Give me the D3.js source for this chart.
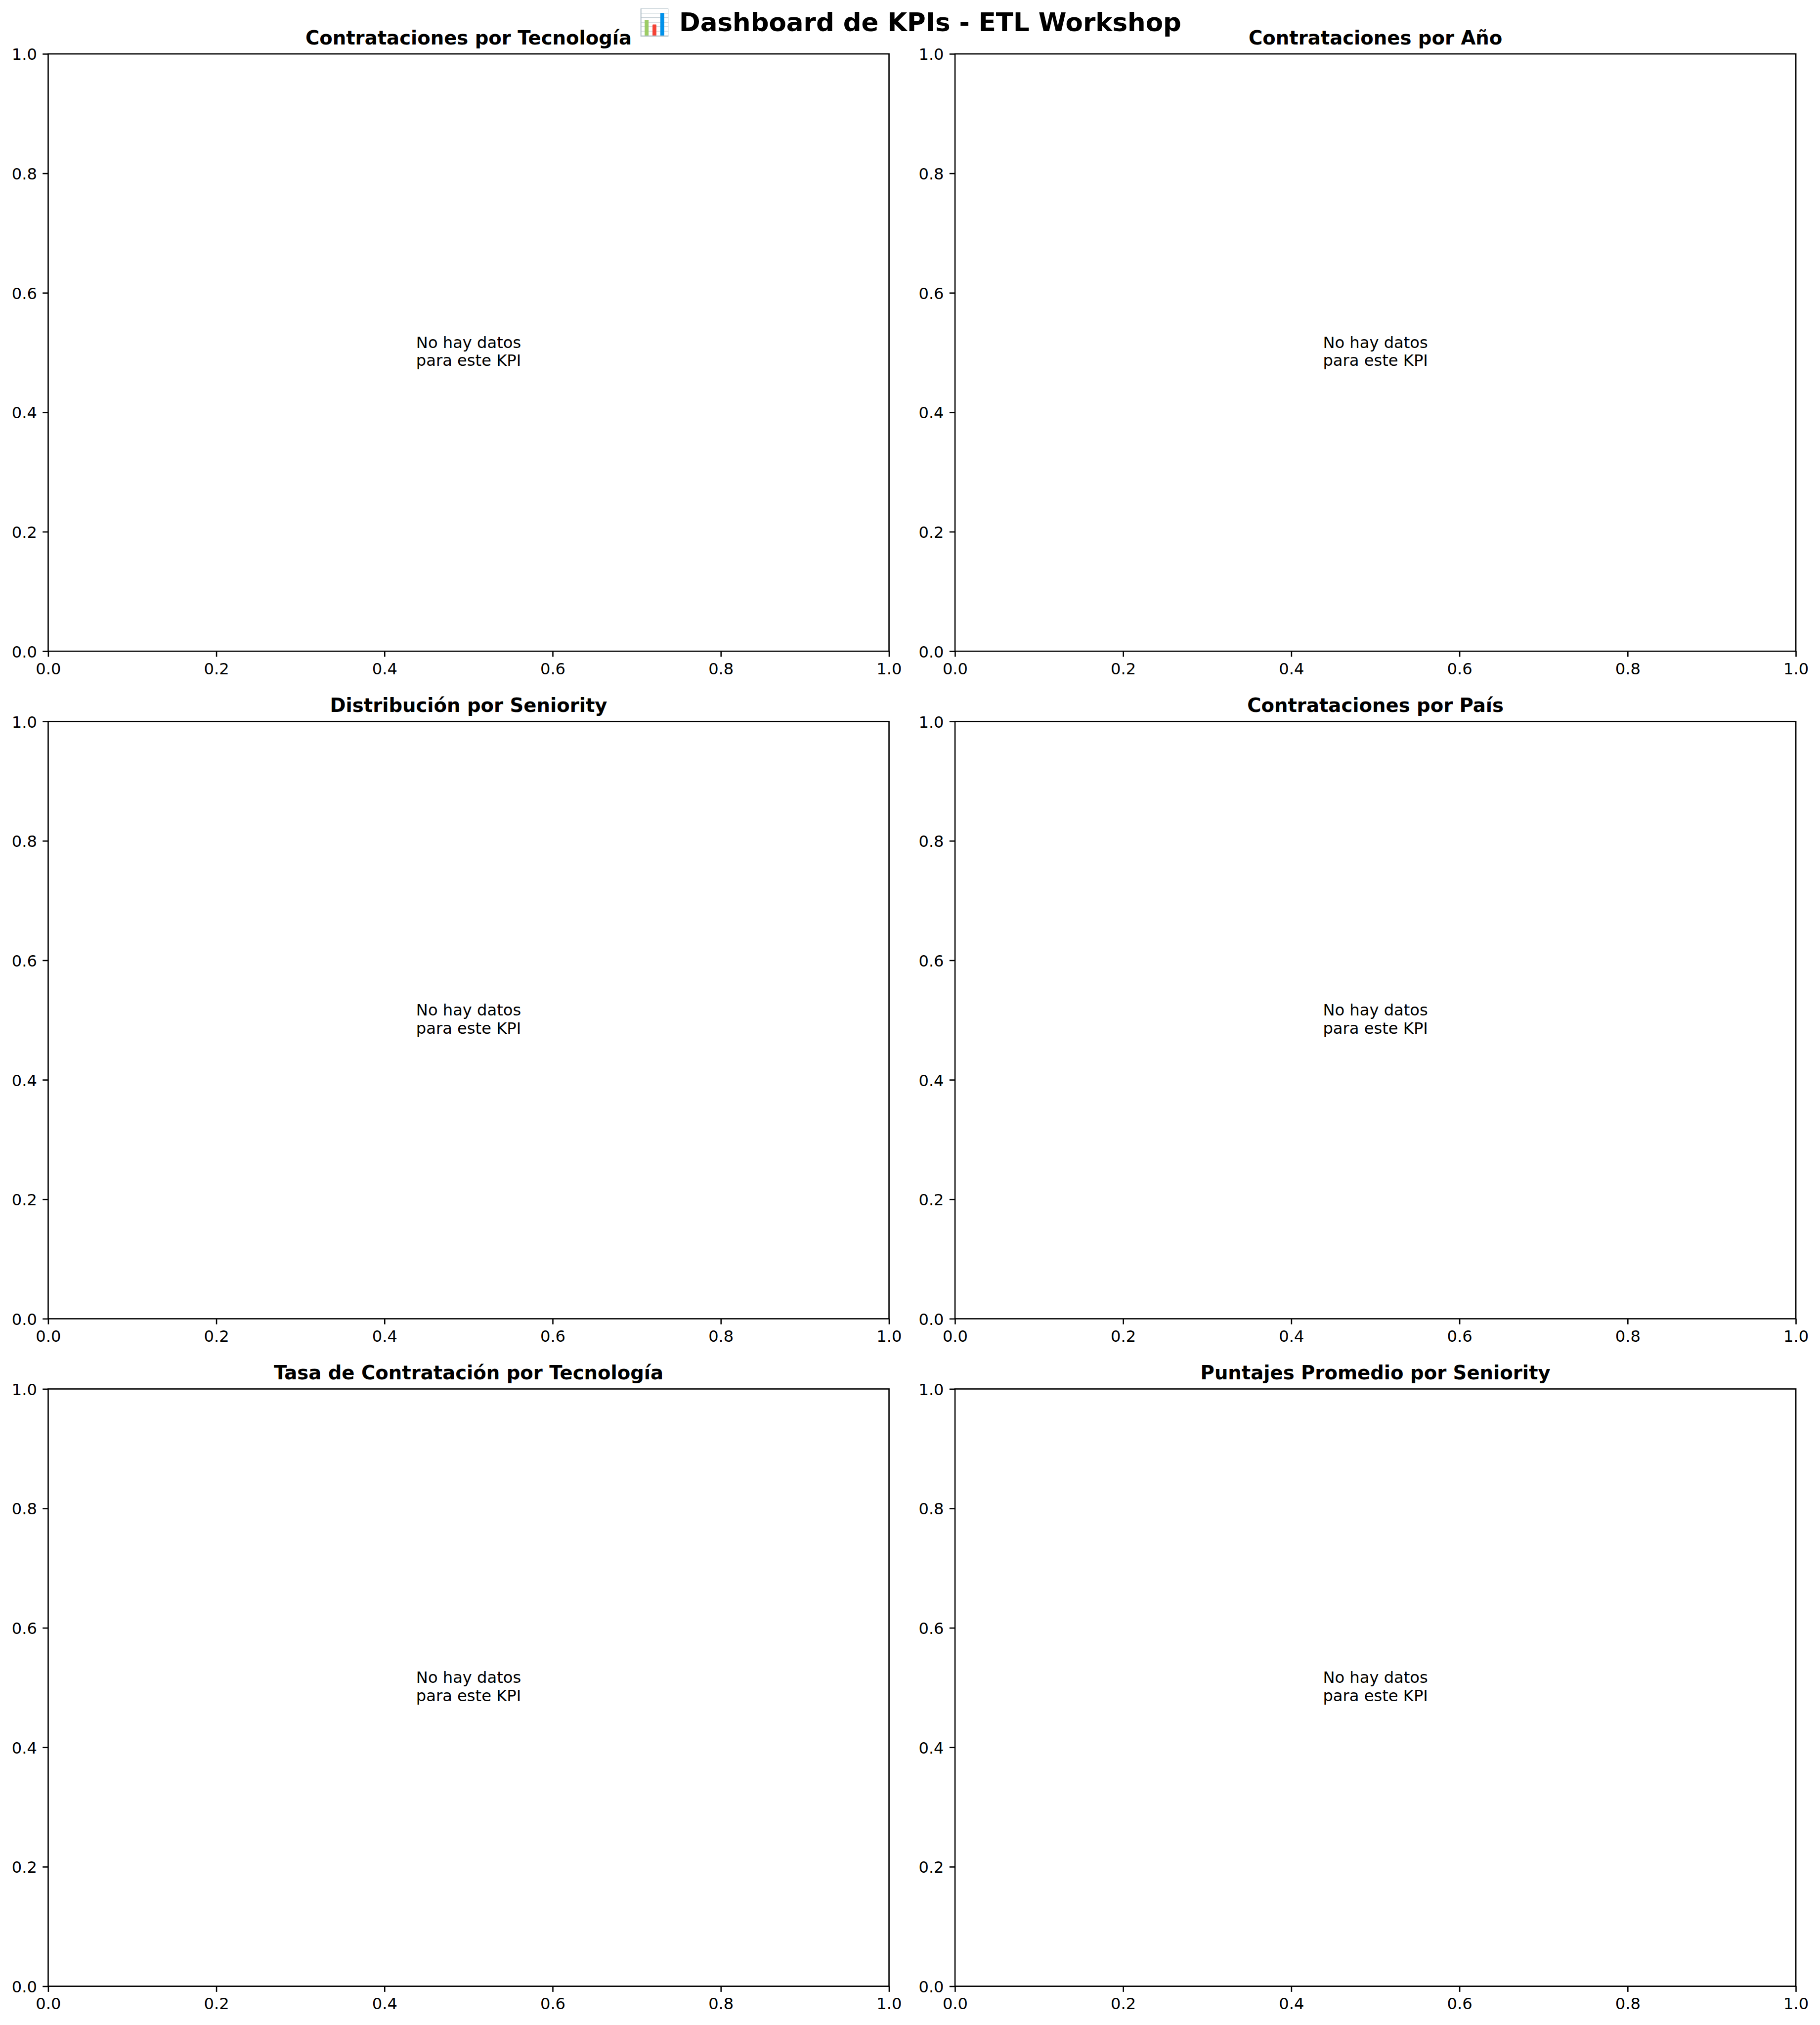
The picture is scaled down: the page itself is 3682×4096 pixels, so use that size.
<!DOCTYPE html>
<html>
<head>
<meta charset="utf-8">
<script src="https://cdn.jsdelivr.net/npm/d3@7"></script>
<style>
  html, body { margin: 0; padding: 0; background: #ffffff; }
  svg { display: block; }
  text { font-family: "DejaVu Sans", sans-serif; fill: #000; }
</style>
</head>
<body>
<script>
// ---- data ----
const suptitle = "\u{1F4CA} Dashboard de KPIs - ETL Workshop";
const panelTitles = [
  "Contrataciones por Tecnología",
  "Contrataciones por Año",
  "Distribución por Seniority",
  "Contrataciones por País",
  "Tasa de Contratación por Tecnología",
  "Puntajes Promedio por Seniority"
];
const emptyMessage = ["No hay datos", "para este KPI"];
const xTicks = [0.0, 0.2, 0.4, 0.6, 0.8, 1.0];
const yTicks = [0.0, 0.2, 0.4, 0.6, 0.8, 1.0];
const xDomain = [0, 1];
const yDomain = [0, 1];

// ---- layout (reference pixel units, scaled by viewBox) ----
const REF_W = 4770, REF_H = 5307;
const OUT_W = 3682, OUT_H = 4096;
const colX = [126, 2503];
const rowY = [141.3, 1890.7, 3640.1];
const panelW = 2204, panelH = 1565.4;
const pt = 300 / 72;          // px per point at 300 dpi
const tickFont = 10 * pt;
const titleFont = 12 * pt;
const supFont = 16 * pt;
const lw = 0.8 * pt;
const tickLen = 3.5 * pt;

const svg = d3.select("body").append("svg")
  .attr("width", OUT_W).attr("height", OUT_H)
  .attr("viewBox", `0 0 ${REF_W} ${REF_H}`);

svg.append("rect").attr("width", REF_W).attr("height", REF_H).attr("fill", "#fff");

svg.append("text")
  .attr("x", REF_W / 2).attr("y", 81.7)
  .attr("text-anchor", "middle")
  .attr("font-size", supFont).attr("font-weight", "bold")
  .text(suptitle);

panelTitles.forEach((title, i) => {
  const cx = colX[i % 2], cy = rowY[Math.floor(i / 2)];
  const g = svg.append("g").attr("transform", `translate(${cx},${cy})`);
  const x = d3.scaleLinear().domain(xDomain).range([0, panelW]);
  const y = d3.scaleLinear().domain(yDomain).range([panelH, 0]);

  // x axis
  const gx = g.append("g").attr("transform", `translate(0,${panelH})`)
    .call(d3.axisBottom(x).tickValues(xTicks).tickFormat(d3.format(".1f"))
      .tickSize(tickLen).tickPadding(tickLen).tickSizeOuter(0));
  gx.select(".domain").remove();
  gx.selectAll(".tick line").attr("stroke", "#000").attr("stroke-width", lw);
  gx.selectAll(".tick text").attr("font-size", tickFont)
    .attr("font-family", "DejaVu Sans").attr("fill", "#000")
    .attr("dy", "0.75em");

  // y axis
  const gy = g.append("g")
    .call(d3.axisLeft(y).tickValues(yTicks).tickFormat(d3.format(".1f"))
      .tickSize(tickLen).tickPadding(tickLen).tickSizeOuter(0));
  gy.select(".domain").remove();
  gy.selectAll(".tick line").attr("stroke", "#000").attr("stroke-width", lw);
  gy.selectAll(".tick text").attr("font-size", tickFont)
    .attr("font-family", "DejaVu Sans").attr("fill", "#000")
    .attr("dy", "0.372em");

  // frame (spines)
  g.append("rect")
    .attr("x", x(xDomain[0])).attr("y", y(yDomain[1]))
    .attr("width", x(xDomain[1]) - x(xDomain[0]))
    .attr("height", y(yDomain[0]) - y(yDomain[1]))
    .attr("fill", "none").attr("stroke", "#000").attr("stroke-width", lw);

  // title
  g.append("text")
    .attr("x", panelW / 2).attr("y", -6 * pt)
    .attr("text-anchor", "middle")
    .attr("font-size", titleFont).attr("font-weight", "bold")
    .text(title);

  // empty message
  const msg = g.append("text")
    .attr("font-size", tickFont);
  const midX = x(0.5), midY = y(0.5);
  emptyMessage.forEach((line, k) => {
    msg.append("tspan")
      .attr("x", midX).attr("y", midY - 12.3 + k * 47.6)
      .attr("text-anchor", "middle")
      .text(line);
  });
});
</script>
</body>
</html>
